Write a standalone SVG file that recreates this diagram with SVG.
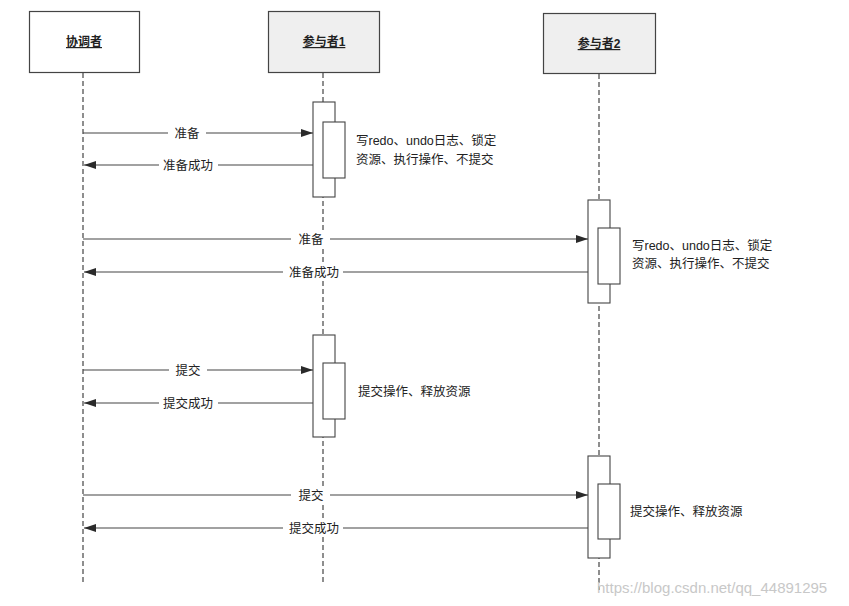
<svg xmlns="http://www.w3.org/2000/svg" width="849" height="606" viewBox="0 0 849 606">
<defs>
<marker id="ah" markerWidth="12" markerHeight="8" refX="12" refY="4" orient="auto" markerUnits="userSpaceOnUse">
<path d="M0,0 L12,4 L0,8 Z" fill="#2a2a2a"/>
</marker>
<style>
.head{stroke:#444;stroke-width:1.2}
.ht{font-family:"Liberation Sans","Noto Sans CJK SC",sans-serif;font-size:12px;font-weight:bold;fill:#222;text-anchor:middle;text-decoration:underline}
.life{stroke:#444;stroke-width:1.2;stroke-dasharray:5,3;fill:none}
.act{fill:#fff;stroke:#444;stroke-width:1.1}
.msg{stroke:#444;stroke-width:1.1;fill:none;marker-end:url(#ah)}
.lbl{font-family:"Liberation Sans","Noto Sans CJK SC",sans-serif;font-size:12.5px;fill:#222;text-anchor:middle}
.bg{fill:#fff}
.note{font-family:"Liberation Sans","Noto Sans CJK SC",sans-serif;font-size:12.5px;fill:#222}
.wm{font-family:"Liberation Sans",sans-serif;font-size:15px;fill:#c8c8c8}
</style>
</defs>
<rect width="849" height="606" fill="#fff"/>
<g id="coordinator">
<rect class="head" x="29.5" y="11.5" width="110" height="61" fill="#fff"/>
<text class="ht" x="84" y="46">协调者</text>
<line class="life" x1="83" y1="73" x2="83" y2="582"/>
</g>
<g id="participant1">
<rect class="head" x="268.5" y="11.5" width="111" height="61" fill="#efefef"/>
<text class="ht" x="324" y="46">参与者1</text>
<line class="life" x1="323" y1="73" x2="323" y2="582"/>
</g>
<g id="participant2">
<rect class="head" x="543.5" y="13.5" width="112" height="60" fill="#efefef"/>
<text class="ht" x="599" y="48">参与者2</text>
<line class="life" x1="599" y1="74" x2="599" y2="590"/>
</g>
<g id="activations">
<rect class="act" x="313" y="102" width="22" height="95"/>
<rect class="act" x="323" y="122" width="22" height="56"/>
<rect class="act" x="588" y="200" width="22" height="103"/>
<rect class="act" x="598" y="228" width="22" height="56"/>
<rect class="act" x="313" y="335" width="22" height="102"/>
<rect class="act" x="323" y="363" width="22" height="56"/>
<rect class="act" x="588" y="456" width="22" height="102"/>
<rect class="act" x="598" y="484" width="22" height="55"/>
</g>
<g id="notes">
<text class="note" x="356" y="145">写redo、undo日志、锁定</text>
<text class="note" x="356" y="164">资源、执行操作、不提交</text>
<text class="note" x="632" y="250">写redo、undo日志、锁定</text>
<text class="note" x="632" y="268">资源、执行操作、不提交</text>
<text class="note" x="358" y="396">提交操作、释放资源</text>
<text class="note" x="630" y="516">提交操作、释放资源</text>
</g>
<g id="connectors">
<line class="msg" x1="83" y1="133" x2="313" y2="133"/>
<line class="msg" x1="313" y1="165" x2="84" y2="165"/>
<line class="msg" x1="83" y1="239" x2="588" y2="239"/>
<line class="msg" x1="588" y1="272" x2="84" y2="272"/>
<line class="msg" x1="83" y1="370" x2="313" y2="370"/>
<line class="msg" x1="313" y1="403" x2="84" y2="403"/>
<line class="msg" x1="83" y1="495" x2="588" y2="495"/>
<line class="msg" x1="588" y1="528" x2="84" y2="528"/>
<rect class="bg" x="168" y="124" width="38" height="18"/>
<text class="lbl" x="187" y="138">准备</text>
<rect class="bg" x="159" y="156" width="59" height="18"/>
<text class="lbl" x="188" y="170">准备成功</text>
<rect class="bg" x="291" y="230" width="39" height="18"/>
<text class="lbl" x="311" y="244">准备</text>
<rect class="bg" x="283" y="263" width="60" height="18"/>
<text class="lbl" x="314" y="277">准备成功</text>
<rect class="bg" x="169" y="361" width="38" height="18"/>
<text class="lbl" x="188" y="375">提交</text>
<rect class="bg" x="159" y="394" width="59" height="18"/>
<text class="lbl" x="188" y="408">提交成功</text>
<rect class="bg" x="291" y="486" width="39" height="18"/>
<text class="lbl" x="311" y="500">提交</text>
<rect class="bg" x="283" y="519" width="60" height="18"/>
<text class="lbl" x="314" y="533">提交成功</text>
</g>
<text class="wm" x="597" y="593">https://blog.csdn.net/qq_44891295</text>
</svg>
